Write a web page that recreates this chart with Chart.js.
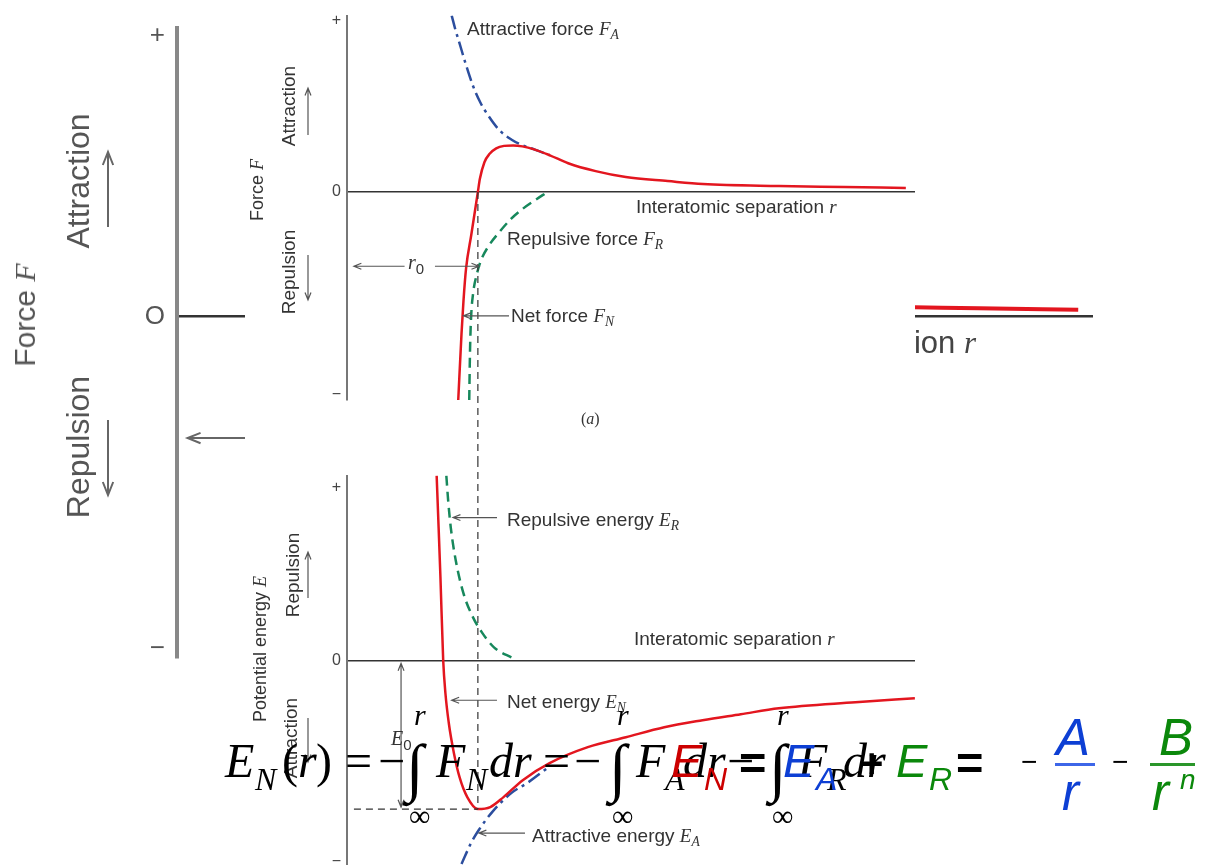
<!DOCTYPE html>
<html>
<head>
<meta charset="utf-8">
<script src="https://cdn.jsdelivr.net/npm/chart.js@4.4.1/dist/chart.umd.min.js"></script>
<style>
  html, body { margin: 0; padding: 0; background: #fff; }
  #page { position: relative; width: 1212px; height: 865px; overflow: hidden; background: #fff; font-family: 'Liberation Sans', Arial, sans-serif; }
  canvas { position: absolute; }
  .t { position: absolute; white-space: nowrap; line-height: 1; }
  .rot { position: absolute; white-space: nowrap; line-height: 1; transform: translate(-50%, -50%) rotate(-90deg); }
  .m { font-family: 'Liberation Serif', 'Times New Roman', serif; font-style: italic; }
  .m sub, .s sub { font-size: 0.72em; vertical-align: -0.32em; line-height: 0; }
  #paste { position: absolute; left: 245px; top: 0; width: 670px; height: 865px; background: #fff; z-index: 2; }
</style>
</head>
<body>
<div id="page">
  <canvas id="bg" width="1212" height="865" style="left:0;top:0;z-index:0"></canvas>
  <div id="paste"></div>
  <canvas id="force" width="670" height="460" style="left:245px;top:0;z-index:3"></canvas>
  <canvas id="energy" width="670" height="430" style="left:245px;top:460px;z-index:3"></canvas>
</div>
<script>
// r is interatomic separation in units of r0, force / energy in arbitrary units
const rMax = 4.34

const netForceR = [0.85, 0.875, 0.89, 0.91, 0.95, 1.00, 1.015, 1.05, 1.09, 1.14, 1.20, 1.27, 1.34, 1.43, 1.55, 1.69, 1.90, 2.13, 2.45, 2.72, 3.30, 3.80, 4.27]
const netForce = [-2.10, -1.43, -1.10, -0.77, -0.43, 0.00, 0.13, 0.30, 0.385, 0.44, 0.465, 0.47, 0.46, 0.43, 0.37, 0.29, 0.21, 0.15, 0.11, 0.08, 0.06, 0.05, 0.04]

const attrForceR = [0.80, 0.83, 0.86, 0.905, 0.963, 1.02, 1.08, 1.167, 1.255, 1.343, 1.43, 1.55]
const attrForce = [1.78, 1.63, 1.50, 1.30, 1.07, 0.90, 0.77, 0.62, 0.53, 0.47, 0.43, 0.37]

const repForceR = [0.934, 0.940, 0.948, 0.963, 0.992, 1.021, 1.08, 1.167, 1.255, 1.343, 1.429, 1.532]
const repForce = [-2.10, -1.60, -1.27, -1.03, -0.83, -0.70, -0.55, -0.40, -0.27, -0.17, -0.09, 0.0]

const netEnergyR = [0.685, 0.70, 0.714, 0.735, 0.752, 0.778, 0.817, 0.86, 0.919, 1.00, 1.095, 1.196, 1.343, 1.548, 1.84, 2.131, 2.424, 2.717, 3.009, 3.30, 3.885, 4.339]
const netEnergy = [1.85, 1.33, 0.83, 0.0, -0.33, -0.63, -0.93, -1.17, -1.37, -1.49, -1.47, -1.37, -1.20, -1.03, -0.87, -0.77, -0.67, -0.60, -0.54, -0.48, -0.42, -0.38]

const repEnergyR = [0.759, 0.773, 0.793, 0.831, 0.89, 0.963, 1.036, 1.123, 1.27]
const repEnergy = [1.85, 1.60, 1.33, 1.00, 0.67, 0.43, 0.27, 0.13, 0.02]

const attrEnergyR = [0.875, 0.948, 1.007, 1.109, 1.255, 1.387, 1.55]
const attrEnergy = [-2.04, -1.83, -1.70, -1.52, -1.33, -1.22, -1.06]

const forceTicks = [-2.05, 0, 1.73]
const energyTicks = [-2.02, 0, 1.73]
const tickLabels = ['\u2212', '0', '+']
const bigTickLabels = ['\u2212', 'O', '+']

const red = '#e3161f'
const blue = '#2c4e9e'
const green = '#17885c'

const pts = (xs, ys) => xs.map((x, i) => ({ x, y: ys[i] }))

function arrow(ctx, x1, y1, x2, y2, head, both) {
  const a = Math.atan2(y2 - y1, x2 - x1)
  ctx.beginPath()
  ctx.moveTo(x1, y1)
  ctx.lineTo(x2, y2)
  const tip = (x, y, ang) => {
    ctx.moveTo(x - head * Math.cos(ang - 0.38), y - head * Math.sin(ang - 0.38))
    ctx.lineTo(x, y)
    ctx.lineTo(x - head * Math.cos(ang + 0.38), y - head * Math.sin(ang + 0.38))
  }
  tip(x2, y2, a)
  if (both) tip(x1, y1, a + Math.PI)
  ctx.stroke()
}

const notes = {
  id: 'notes',
  afterDatasetsDraw(chart, args, o) {
    const { ctx } = chart
    const px = r => chart.scales.x.getPixelForValue(r)
    const py = v => v === 'top' ? 0 : v === 'bottom' ? chart.height : chart.scales.y.getPixelForValue(v)
    ctx.save()
    ctx.lineWidth = o.width
    ctx.strokeStyle = '#333'
    ctx.setLineDash(o.dash)
    for (const [r1, v1, r2, v2] of o.dashed || []) {
      ctx.beginPath()
      ctx.moveTo(px(r1), py(v1))
      ctx.lineTo(px(r2), py(v2))
      ctx.stroke()
    }
    ctx.setLineDash([])
    ctx.strokeStyle = o.color
    for (const [r1, v1, r2, v2, both] of o.arrows || []) arrow(ctx, px(r1), py(v1), px(r2), py(v2), o.head, both)
    for (const [x1, y1, x2, y2] of o.pixelArrows || []) arrow(ctx, x1, y1, x2, y2, o.head, false)
    ctx.restore()
  }
}

function curveChart(id, cfg) {
  return new Chart(document.getElementById(id), {
    type: 'scatter',
    data: { datasets: cfg.datasets },
    options: {
      responsive: false,
      animation: false,
      devicePixelRatio: 1,
      events: [],
      layout: { padding: cfg.padding },
      plugins: { legend: { display: false }, tooltip: { enabled: false }, notes: cfg.notes },
      elements: { point: { radius: 0 } },
      scales: {
        x: { type: 'linear', display: false, min: 0, max: rMax },
        y: {
          min: cfg.yMin,
          max: cfg.yMax,
          afterFit: s => { s.width = cfg.boxWidth },
          afterBuildTicks: s => { s.ticks = cfg.ticks.map(value => ({ value })) },
          ticks: {
            callback: (v, i) => cfg.labels[i],
            font: { family: 'Liberation Sans', size: cfg.tickSize },
            color: cfg.tickColor,
            padding: cfg.tickPad
          },
          grid: {
            drawTicks: false,
            color: c => (c.tick && c.tick.value === 0) ? cfg.zeroColor : 'rgba(0,0,0,0)',
            lineWidth: cfg.zeroWidth
          },
          border: { display: true, color: cfg.axisColor, width: cfg.axisWidth }
        }
      }
    },
    plugins: [notes]
  })
}

const line = (data, color, width, dash) => ({
  data, showLine: true, borderColor: color, borderWidth: width, borderDash: dash || [],
  cubicInterpolationMode: 'monotone', pointRadius: 0, fill: false
})

// large background figure (mostly covered by the pasted figure)
curveChart('bg', {
  datasets: [line(pts(netForceR, netForce), red, 4)],
  padding: { left: 0, right: 119, top: 27, bottom: 208 },
  boxWidth: 177, yMin: -2.10, yMax: 1.78,
  ticks: forceTicks, labels: bigTickLabels, tickSize: 26, tickColor: '#555', tickPad: 12,
  zeroColor: '#333', zeroWidth: 2.5, axisColor: '#888', axisWidth: 4,
  notes: { width: 2, color: '#666', head: 14, dash: [12, 8],
    arrows: [[0.44, -0.75, 0.05, -0.75]],
    pixelArrows: [[108, 227, 108, 152], [108, 420, 108, 495]] }
})

// (a) force
curveChart('force', {
  datasets: [
    line(pts(netForceR, netForce), red, 2.5),
    line(pts(attrForceR, attrForce), blue, 2.5, [14, 5, 3, 5]),
    line(pts(repForceR, repForce), green, 2.5, [10, 6])
  ],
  padding: { left: 0, right: 0, top: 12, bottom: 60 },
  boxWidth: 102, yMin: -2.10, yMax: 1.78,
  ticks: forceTicks, labels: tickLabels, tickSize: 16, tickColor: '#444', tickPad: 6,
  zeroColor: '#333', zeroWidth: 1.5, axisColor: '#777', axisWidth: 2,
  notes: { width: 1.2, color: '#555', head: 8, dash: [7, 5],
    dashed: [[1.0, 0, 1.0, 'bottom']],
    arrows: [[0.44, -0.75, 0.053, -0.75], [0.672, -0.75, 1.008, -0.75], [1.238, -1.25, 0.89, -1.25]],
    pixelArrows: [[63, 135, 63, 88], [63, 255, 63, 300]] }
})

// (b) potential energy
curveChart('energy', {
  datasets: [
    line(pts(netEnergyR, netEnergy), red, 2.5),
    line(pts(attrEnergyR, attrEnergy), blue, 2.5, [14, 5, 3, 5]),
    line(pts(repEnergyR, repEnergy), green, 2.5, [10, 6])
  ],
  padding: { left: 0, right: 0, top: 15, bottom: 25 },
  boxWidth: 102, yMin: -2.05, yMax: 1.85,
  ticks: energyTicks, labels: tickLabels, tickSize: 16, tickColor: '#444', tickPad: 6,
  zeroColor: '#333', zeroWidth: 1.5, axisColor: '#777', axisWidth: 2,
  notes: { width: 1.2, color: '#555', head: 8, dash: [7, 5],
    dashed: [[1.0, 'top', 1.0, -1.49], [0.053, -1.49, 1.0, -1.49]],
    arrows: [[0.413, -0.03, 0.413, -1.47, true], [1.146, 1.43, 0.81, 1.43], [1.146, -0.40, 0.80, -0.40], [1.36, -1.73, 1.008, -1.73]],
    pixelArrows: [[63, 138, 63, 92], [63, 258, 63, 302]] }
})

// text
const page = document.getElementById('page')
function text(html, x, base, size, o = {}) {
  const el = document.createElement('div')
  el.className = 't'
  el.innerHTML = html
  const k = o.serif ? 0.8375 : 0.8465
  Object.assign(el.style, {
    top: (base - k * size) + 'px', fontSize: size + 'px', color: o.color || '#333',
    zIndex: o.z || 4, fontFamily: o.serif ? "'Liberation Serif', serif" : "'Liberation Sans', sans-serif",
    fontStyle: o.italic ? 'italic' : 'normal', fontWeight: o.bold ? 'bold' : 'normal'
  })
  if (o.right !== undefined) el.style.right = (1212 - o.right) + 'px'
  else el.style.left = x + 'px'
  page.appendChild(el)
}
function vtext(html, cx, cy, size, o = {}) {
  const el = document.createElement('div')
  el.className = 'rot'
  el.innerHTML = html
  Object.assign(el.style, { left: cx + 'px', top: cy + 'px', fontSize: size + 'px', color: o.color || '#333', zIndex: o.z || 4 })
  page.appendChild(el)
}
const F = s => `<span class="m">F<sub>${s}</sub></span>`
const E = s => `<span class="m">E<sub>${s}</sub></span>`

// background figure labels
vtext('Force <span class="m">F</span>', 25, 315, 30, { color: '#555', z: 1 })
vtext('Attraction', 78, 181, 32, { color: '#555', z: 1 })
vtext('Repulsion', 78, 447, 32, { color: '#555', z: 1 })
text('Interatomic separation <span class="m">r</span>', 0, 353, 31, { color: '#444', z: 1, right: 976 })

// (a)
vtext('Force <span class="m">F</span>', 257, 190, 18)
vtext('Attraction', 288, 106, 19)
vtext('Repulsion', 288, 272, 19)
text('Attractive force ' + F('A'), 467, 35, 19)
text('Interatomic separation <span class="m">r</span>', 636, 213, 19)
text('Repulsive force ' + F('R'), 507, 245, 19)
text('<span class="m">r</span><sub style="font-size:0.75em;vertical-align:-0.3em;line-height:0">0</sub>', 408, 269, 20)
text('Net force ' + F('N'), 511, 322, 19)
text('(<i>a</i>)', 581, 424, 16, { serif: true })

// (b)
vtext('Potential energy <span class="m">E</span>', 260, 649, 18)
vtext('Repulsion', 292, 575, 19)
vtext('Attraction', 290, 738, 19)
text('Repulsive energy ' + E('R'), 507, 526, 19)
text('Interatomic separation <span class="m">r</span>', 634, 645, 19)
text('Net energy ' + E('N'), 507, 708, 19)
text('<span class="m">E</span><sub style="font-size:0.75em;vertical-align:-0.3em;line-height:0">0</sub>', 391, 745, 20)
text('Attractive energy ' + E('A'), 532, 842, 19)

// equation, Times part
const eq = (s, x, b, size, italic) => text(s, x, b, size, { serif: true, italic, color: '#000', z: 5 })
eq('E', 225, 777, 48, true); eq('N', 255, 790, 32, true)
eq('(', 282, 777, 48); eq('r', 298, 777, 48, true); eq(')', 316, 777, 48)
eq('=', 345, 777, 48); eq('\u2212', 378, 777, 48)
const integral = x => { eq('\u222B', x, 790, 64); eq('r', x + 8, 725, 30, true); eq('\u221E', x + 3, 826, 30) }
integral(406)
eq('F', 436, 777, 48, true); eq('N', 466, 790, 32, true); eq('dr', 489, 777, 48, true)
eq('=', 543, 777, 48); eq('\u2212', 574, 777, 48)
integral(609)
eq('F', 636, 777, 48, true); eq('A', 665, 790, 32, true); eq('dr', 683, 777, 48, true)
eq('\u2212', 727, 777, 48)
integral(769)
eq('F', 798, 777, 48, true); eq('R', 827, 790, 32, true); eq('dr', 843, 777, 48, true)

// equation, coloured part
const cRed = '#cc0000', cBlue = '#0d3fd4', cGreen = '#0b880b'
const sx = (s, x, b, size, color, o = {}) => text(s, x, b, size, Object.assign({ color, z: 6 }, o))
sx('E', 671, 777, 47, cRed, { italic: true }); sx('N', 704, 790, 32, cRed, { italic: true })
sx('=', 739, 779, 47, '#000', { bold: true })
sx('E', 783, 777, 47, cBlue, { italic: true }); sx('A', 816, 790, 32, cBlue, { italic: true })
sx('+', 860, 777, 40, '#000', { bold: true })
sx('E', 896, 777, 47, cGreen, { italic: true }); sx('R', 929, 790, 32, cGreen, { italic: true })
sx('=', 956, 779, 47, '#000', { bold: true })
sx('\u2212', 1021, 772, 28, '#000')
sx('A', 1056, 755, 51, cBlue, { italic: true }); sx('r', 1062, 810, 51, cBlue, { italic: true })
sx('\u2212', 1112, 772, 28, '#000')
sx('B', 1159, 755, 51, cGreen, { italic: true }); sx('r', 1152, 810, 51, cGreen, { italic: true })
sx('n', 1180, 790, 28, cGreen, { italic: true })
const bar = (x, w, color) => {
  const d = document.createElement('div')
  Object.assign(d.style, { position: 'absolute', left: x + 'px', top: '763px', width: w + 'px', height: '3px', background: color, zIndex: 6 })
  page.appendChild(d)
}
bar(1055, 40, '#3d66e8'); bar(1150, 45, '#2a962a')
</script>
</body>
</html>
